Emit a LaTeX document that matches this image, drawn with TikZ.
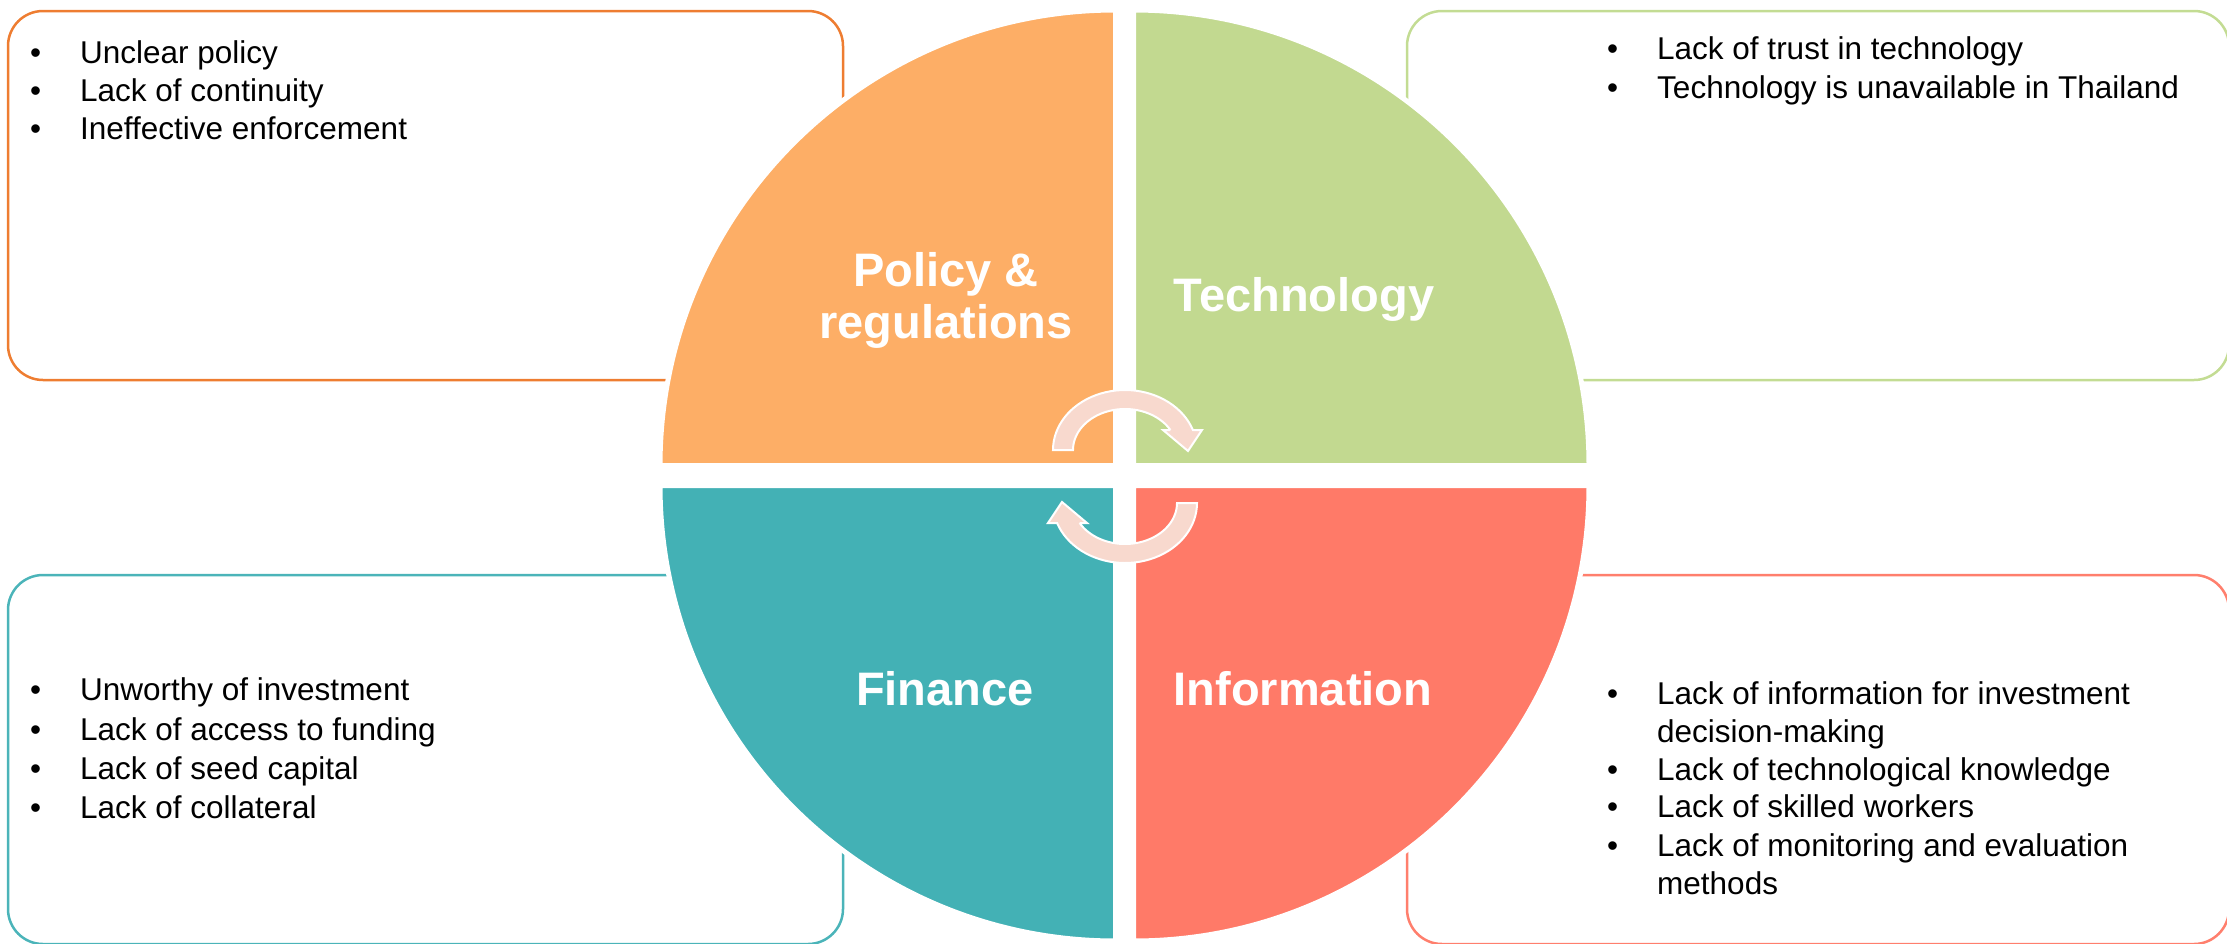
\documentclass[tikz,border=0pt]{standalone}
\usepackage{fontspec}
\setmainfont{Liberation Sans}
\definecolor{qorange}{HTML}{FDAE66}
\definecolor{qgreen}{HTML}{C2D990}
\definecolor{qteal}{HTML}{43B1B5}
\definecolor{qred}{HTML}{FF7A68}
\definecolor{borange}{HTML}{EE7D31}
\definecolor{bgreen}{HTML}{C3DC93}
\definecolor{bteal}{HTML}{4BB4B9}
\definecolor{bred}{HTML}{FF7F6D}
\definecolor{arrowc}{HTML}{F8D9CE}
\newcommand\bul{\llap{\textbullet\hspace{39pt}}}
\begin{document}
\begin{tikzpicture}[x=1pt,y=-1pt,
  quad/.style={draw=white,line width=5pt},
  boxline/.style={line width=2.5pt,rounded corners=35pt},
  bl/.style={anchor=base west,inner sep=0pt,font=\fontsize{31.5}{38}\selectfont},
  qlabel/.style={anchor=base,inner sep=0pt,text=white,font=\fontsize{47}{42}\selectfont\bfseries},
  carrow/.style={fill=arrowc,draw=white,line width=2pt,line join=miter}
]
\useasboundingbox (0,0) rectangle (2227,943);
% side boxes
\draw[boxline,draw=borange] (8,11) rectangle (843,380);
\draw[boxline,draw=bgreen] (1407,11) rectangle (2229,380);
\draw[boxline,draw=bteal] (8,575) rectangle (843,944);
\draw[boxline,draw=bred] (1407,575) rectangle (2229,944);
% box texts
\node[bl] (tl1) at (80,63) {\bul Unclear policy};
\node[bl] (tl2) at (80,101) {\bul Lack of continuity};
\node[bl] (tl3) at (80,139) {\bul Ineffective enforcement};
\node[bl] (tr1) at (1657,59) {\bul Lack of trust in technology};
\node[bl] (tr2) at (1657,98) {\bul Technology is unavailable in Thailand};
\node[bl] (bl1) at (80,700) {\bul Unworthy of investment};
\node[bl] (bl2) at (80,740) {\bul Lack of access to funding};
\node[bl] (bl3) at (80,779) {\bul Lack of seed capital};
\node[bl] (bl4) at (80,818) {\bul Lack of collateral};
\node[bl] (br1) at (1657,704) {\bul Lack of information for investment};
\node[bl] (br1b) at (1657,742) {decision-making};
\node[bl] (br2) at (1657,780) {\bul Lack of technological knowledge};
\node[bl] (br3) at (1657,817) {\bul Lack of skilled workers};
\node[bl] (br4) at (1657,856) {\bul Lack of monitoring and evaluation};
\node[bl] (br4b) at (1657,894) {methods};
% quadrants
\path[quad,fill=qorange] (1115.5,465.5) -- (660,465.5) arc[start angle=180,end angle=90,radius=455.5pt] -- cycle;
\path[quad,fill=qgreen] (1133.5,465.5) -- (1133.5,10) arc[start angle=90,end angle=0,radius=455.5pt] -- cycle;
\path[quad,fill=qteal] (1115.5,485.5) -- (660,485.5) arc[start angle=180,end angle=270,radius=455.5pt] -- cycle;
\path[quad,fill=qred] (1133.5,485.5) -- (1589,485.5) arc[start angle=0,end angle=-90,radius=455.5pt] -- cycle;
% labels
\node[qlabel] (pol1) at (946,286) {Policy \&};
\node[qlabel] (pol2) at (946,338) {regulations};
\node[qlabel] (tech) at (1304,311) {Technology};
\node[qlabel] (fin) at (945,705) {Finance};
\node[qlabel] (info) at (1303,705) {Information};
% circular arrows
\path[carrow] (1073,450) -- (1053,450)
  -- plot[domain=180:19.47,samples=40,variable=\t] ({1125+72*cos(\t)},{450-60*sin(\t)})
  -- (1202,430) -- (1188,451) -- (1163,430) -- (1170.4,430)
  -- plot[domain=29.2:180,samples=40,variable=\t] ({1125+52*cos(\t)},{450-41*sin(\t)})
  -- cycle;
\path[carrow] (1177,503) -- (1197,503)
  -- plot[domain=180:19.47,samples=40,variable=\t] ({1125-72*cos(\t)},{503+60*sin(\t)})
  -- (1048,523) -- (1062,502) -- (1087,523) -- (1079.6,523)
  -- plot[domain=29.2:180,samples=40,variable=\t] ({1125-52*cos(\t)},{503+41*sin(\t)})
  -- cycle;
\end{tikzpicture}
\end{document}
